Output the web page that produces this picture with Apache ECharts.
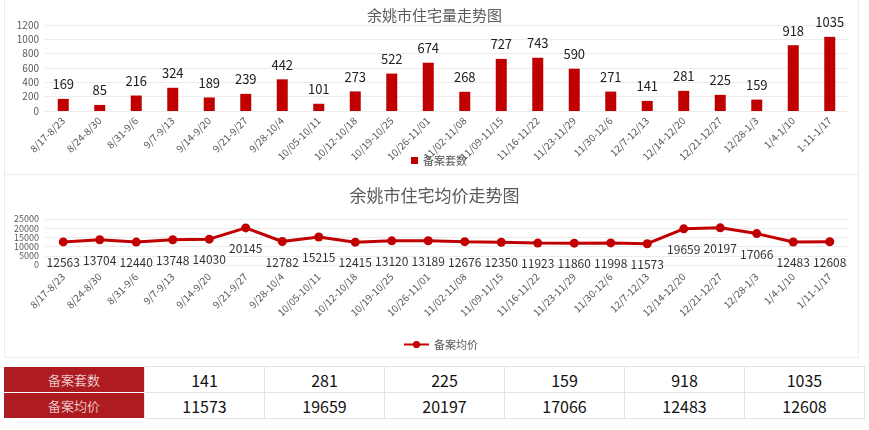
<!DOCTYPE html>
<html>
<head>
<meta charset="utf-8">
<script src="https://cdn.jsdelivr.net/npm/echarts@6/dist/echarts.min.js"></script>
<style>
  body { margin: 0; background: #fff; font-family: "Noto Sans CJK SC", sans-serif; }
  #wrap { position: relative; width: 869px; height: 430px; }
  .panel { position: absolute; left: 4px; width: 855px; border: 1px solid #ececec; box-sizing: border-box; }
  #chart { position: absolute; left: 0; top: 0; width: 869px; height: 362px; }
  table { position: absolute; left: 4px; top: 366px; border-collapse: collapse; }
  td { border: 1px solid #e3e3e3; height: 25px; width: 119px; text-align: center; font-size: 16px; font-weight: normal; color: #111; padding: 0; }
  td.head { width: 140px; background: #ae1c22; color: #fff; font-size: 13px; font-weight: 300; border: none; border-bottom: 1px solid #fff; }
</style>
</head>
<body>
<div id="wrap">
  <div class="panel" style="top:-1px;height:176px;"></div>
  <div class="panel" style="top:174px;height:184px;"></div>
  <div id="chart"></div>
  <table id="tbl"></table>
</div>
<script>
// 周期
var weeks = ['8/17-8/23', '8/24-8/30', '8/31-9/6', '9/7-9/13', '9/14-9/20', '9/21-9/27', '9/28-10/4',
  '10/05-10/11', '10/12-10/18', '10/19-10/25', '10/26-11/01', '11/02-11/08', '11/09-11/15', '11/16-11/22',
  '11/23-11/29', '11/30-12/6', '12/7-12/13', '12/14-12/20', '12/21-12/27', '12/28-1/3', '1/4-1/10', '1-11-1/17'];
var weeks2 = weeks.slice(0, 21).concat(['1/11-1/17']);
// 备案套数
var counts = [169, 85, 216, 324, 189, 239, 442, 101, 273, 522, 674, 268, 727, 743, 590, 271, 141, 281, 225, 159, 918, 1035];
// 备案均价
var prices = [12563, 13704, 12440, 13748, 14030, 20145, 12782, 15215, 12415, 13120, 13189, 12676, 12350, 11923,
  11860, 11998, 11573, 19659, 20197, 17066, 12483, 12608];

var gray = '#595959';
var plain = function (v) { return String(v); };
var chart = echarts.init(document.getElementById('chart'));
chart.setOption({
  animation: false,
  textStyle: { fontFamily: 'Noto Sans CJK SC' },
  title: [
    { text: '余姚市住宅量走势图', left: 'center', top: 3, textStyle: { fontSize: 15, fontWeight: 'normal', color: gray } },
    { text: '余姚市住宅均价走势图', left: 'center', top: 182, textStyle: { fontSize: 17, fontWeight: 'normal', color: gray } }
  ],
  legend: [
    { data: [{ name: '备案套数', icon: 'rect' }], left: 406, top: 150, itemWidth: 7, itemHeight: 7, itemGap: 4,
      textStyle: { fontSize: 11, color: gray } },
    { data: ['备案均价'], left: 398, top: 334, itemWidth: 25, itemHeight: 9, itemGap: 4,
      textStyle: { fontSize: 11, color: gray } }
  ],
  grid: [
    { left: 45, right: 21, top: 25, height: 86 },
    { left: 45, right: 21, top: 219, height: 46 }
  ],
  xAxis: [
    { type: 'category', gridIndex: 0, data: weeks, axisLine: { show: false }, axisTick: { show: false },
      axisLabel: { rotate: 45, interval: 0, fontSize: 10, color: gray, margin: 8 } },
    { type: 'category', gridIndex: 1, data: weeks2, axisLine: { show: false }, axisTick: { show: false },
      axisLabel: { rotate: 45, interval: 0, fontSize: 10, color: gray, margin: 10 } }
  ],
  yAxis: [
    { type: 'value', gridIndex: 0, min: 0, max: 1200, interval: 200,
      axisLabel: { fontSize: 10, color: gray, margin: 6, formatter: plain },
      splitLine: { lineStyle: { color: '#ececec' } } },
    { type: 'value', gridIndex: 1, min: 0, max: 25000, interval: 5000,
      axisLabel: { fontSize: 9, color: gray, margin: 6, formatter: plain, showMinLabel: true, showMaxLabel: true,
        hideOverlap: false, lineHeight: 9 },
      splitLine: { lineStyle: { color: '#ececec' } } }
  ],
  series: [
    { name: '备案套数', type: 'bar', xAxisIndex: 0, yAxisIndex: 0, data: counts, barWidth: 11,
      itemStyle: { color: '#c00000' },
      label: { show: true, position: 'top', distance: 8, fontSize: 13, color: '#222' } },
    { name: '备案均价', type: 'line', xAxisIndex: 1, yAxisIndex: 1, data: prices,
      symbol: 'circle', symbolSize: 9, lineStyle: { width: 3, color: '#c00000' }, itemStyle: { color: '#c00000' },
      label: { show: true, position: 'bottom', distance: 10, fontSize: 12, color: '#333' } }
  ]
});

// 底部表格：最近六周
var tbl = document.getElementById('tbl');
var rows = [['备案套数', counts.slice(-6)], ['备案均价', prices.slice(-6)]];
rows.forEach(function (r) {
  var tr = document.createElement('tr');
  var html = '<td class="head">' + r[0] + '</td>';
  r[1].forEach(function (v) { html += '<td>' + v + '</td>'; });
  tr.innerHTML = html;
  tbl.appendChild(tr);
});
</script>
</body>
</html>
